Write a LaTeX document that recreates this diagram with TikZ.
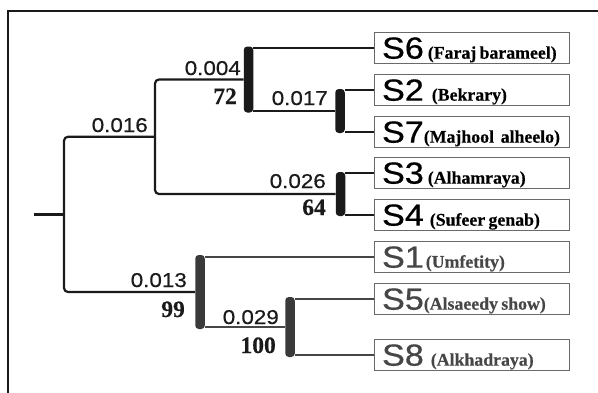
\documentclass[tikz,border=0pt]{standalone}
\usepackage{fontspec}
\newfontfamily\labfont[FakeStretch=1.12,FakeBold=0.5]{Liberation Sans}
\newfontfamily\bigsfont[FakeStretch=1.12,FakeBold=0.6]{Liberation Sans}
\newfontfamily\serfont[FakeBold=0.4]{Liberation Serif}
\definecolor{ink}{HTML}{1A1A1A}
\definecolor{greyink}{HTML}{464646}
\definecolor{greybar}{HTML}{3A3A3A}
\definecolor{boxline}{HTML}{6A6A6A}
\tikzset{
  br/.style={line width=2.2pt, draw=ink},
  brg/.style={line width=2.2pt, draw=greyink},
  bar/.style={rectangle, fill=ink, minimum width=9.5pt, inner sep=0pt, rounded corners=3.5pt},
  barg/.style={bar, fill=greybar},
  leaf/.style={draw=boxline, line width=1.1pt, rectangle, anchor=west, text width=180pt,
    inner xsep=7.5pt, inner ysep=0pt, minimum height=31pt, align=left, text depth=0pt},
  blen/.style={anchor=base east, inner sep=0pt, font=\labfont\fontsize{20}{20}\selectfont, text=ink},
  boot/.style={anchor=base east, inner sep=0pt, font=\serfont\bfseries\fontsize{23.5}{23.5}\selectfont, text=ink},
}
\newcommand{\leaflab}[3]{{\bigsfont\fontsize{30.5}{30.5}\selectfont #1}\hspace{#3pt}{\serfont\bfseries\fontsize{17.8}{17.8}\selectfont #2}}
\begin{document}
\begin{tikzpicture}[x=1pt,y=-1pt]
\useasboundingbox (0,0) rectangle (598,392);
% frame
\draw[line width=2.2pt, draw=ink] (8,393) -- (8,11) -- (599,11);

% leaves
\node[leaf] (s6) at (374,48) {\leaflab{S6}{(Faraj barameel)}{4}};
\node[leaf] (s2) at (374,90) {\leaflab{S2}{(Bekrary)}{8}};
\node[leaf] (s7) at (374,132) {\leaflab{S7}{(Majhool\ \ alheelo)}{0}};
\node[leaf] (s3) at (374,173) {\leaflab{S3}{(Alhamraya)}{4}};
\node[leaf] (s4) at (374,215) {\leaflab{S4}{(Sufeer genab)}{6}};
\node[leaf, text=greyink] (s1) at (374,257) {\leaflab{S1}{(Umfetity)}{2}};
\node[leaf, text=greyink] (s5) at (374,299) {\leaflab{S5}{(Alsaeedy show)}{0}};
\node[leaf, text=greyink] (s8) at (374,355) {\leaflab{S8}{(Alkhadraya)}{7}};

% bars (internal nodes)
\node[bar, minimum height=66pt] (nB) at (248.5,79.5) {};
\node[bar, minimum height=44pt] (nC) at (340,111) {};
\node[bar, minimum height=44pt] (nD) at (340.5,194) {};
\node[barg, minimum height=74pt] (nE) at (200,292) {};
\node[barg, minimum height=60pt] (nF) at (290,327) {};
\coordinate (nA) at (155,136.75);
\coordinate (nR) at (64,214.4);
\coordinate (root) at (34,214.4);

% connectors upper clade
\draw[br] (nB.east |- s6.west) -- (s6.west);
\draw[br] (nB.east |- nC.west) -- (nC.west);
\draw[br] (nC.east |- s2.west) -- (s2.west);
\draw[br] (nC.east |- s7.west) -- (s7.west);
\draw[br] (nD.east |- s3.west) -- (s3.west);
\draw[br] (nD.east |- s4.west) -- (s4.west);
\draw[br, rounded corners=4pt] (nB.west) -| (nA) |- (nD.west);
\draw[br, rounded corners=4pt] (nA) -| (nR) |- (nE.west);
\draw[br] (root) -- (nR);

% connectors lower clade
\draw[brg] (nE.east |- s1.west) -- (s1.west);
\draw[brg] (nE.east |- nF.west) -- (nF.west);
\draw[brg] (nF.east |- s5.west) -- (s5.west);
\draw[brg] (nF.east |- s8.west) -- (s8.west);

% branch lengths and bootstrap values
\node[blen] (l016) at (148,132) {0.016};
\node[blen] (l004) at (241,75) {0.004};
\node[boot] (b72) at (237,104) {72};
\node[blen] (l017) at (328,105) {0.017};
\node[blen] (l026) at (326,188) {0.026};
\node[boot] (b64) at (326,215) {64};
\node[blen] (l013) at (187,287) {0.013};
\node[boot] (b99) at (185,317) {99};
\node[blen] (l029) at (279,324) {0.029};
\node[boot] (b100) at (276,353) {100};
\end{tikzpicture}
\end{document}
